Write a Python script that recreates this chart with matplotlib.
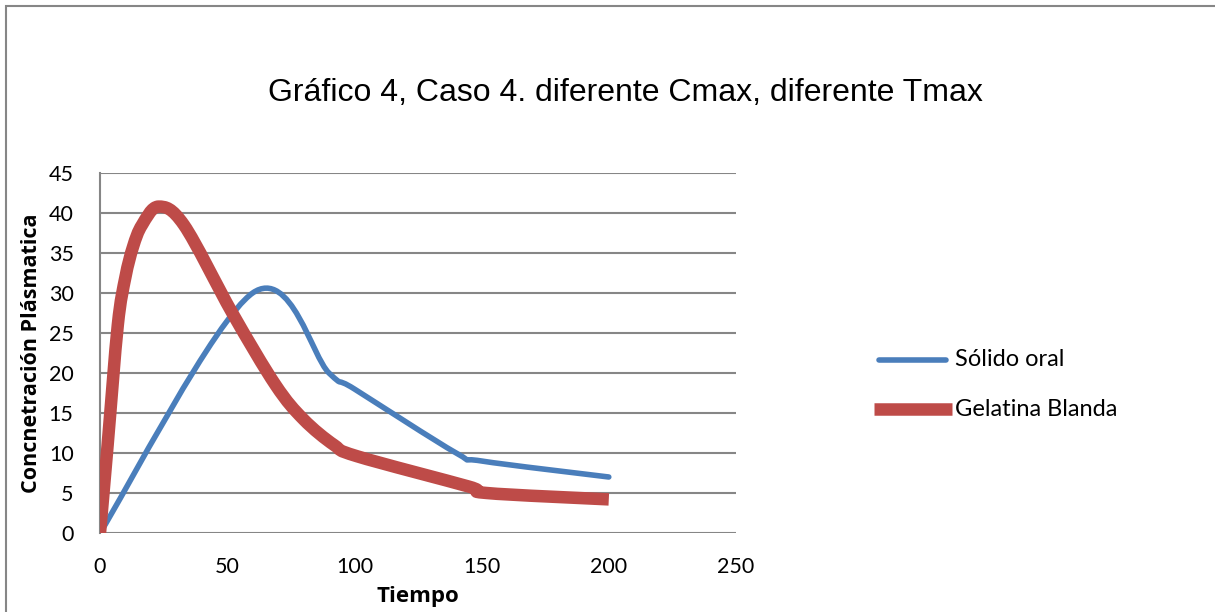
import numpy as np
import matplotlib
matplotlib.use("Agg")
import matplotlib.pyplot as plt
from matplotlib.path import Path
from matplotlib.patches import PathPatch, Rectangle
from matplotlib.lines import Line2D

# data
solido_t = [0, 60, 90, 100, 140, 150, 200]
solido_c = [0, 30, 20, 18, 10, 9, 7]

gelatina_t = [0, 3, 7, 10, 13, 16.5, 23, 33, 52, 69, 80, 92, 101, 145, 152, 200]
gelatina_c = [0, 11, 26, 32, 35.8, 38.5, 40.8, 38.5, 27.5, 18.5, 14.2, 11, 9.6, 5.8, 5, 4.2]

title = "Gráfico 4, Caso 4. diferente Cmax, diferente Tmax"
xlabel = "Tiempo"
ylabel = "Concnetración Plásmatica"
labels = ["Sólido oral", "Gelatina Blanda"]
xticks = [0, 50, 100, 150, 200, 250]
yticks = list(range(0, 50, 5))

blue = "#4a7ebb"
red = "#be4b48"
grey = "#868686"


def smooth_path(xs, ys):
    # Excel-like smoothed line: cubic bezier through the points
    p = np.column_stack([xs, ys]).astype(float)
    n = len(p)
    verts = [p[0]]
    codes = [Path.MOVETO]
    for i in range(n - 1):
        p0 = p[i - 1] if i > 0 else p[i]
        p3 = p[i + 2] if i + 2 < n else p[i + 1]
        c1 = p[i] + (p[i + 1] - p0) / 6
        c2 = p[i + 1] - (p3 - p[i]) / 6
        verts += [c1, c2, p[i + 1]]
        codes += [Path.CURVE4] * 3
    return Path(verts, codes)


W, H = 1215, 612
fig = plt.figure(figsize=(W / 100, H / 100), dpi=100)

# outer chart frame
fig.patches.append(Rectangle((6 / W, -0.05), 1.1, (606 / H) + 0.05,
                             transform=fig.transFigure, fill=False,
                             edgecolor=grey, linewidth=1.5))

ax = fig.add_axes([100 / W, 79 / H, 636 / W, 360 / H])
ax.set_xlim(0, 250)
ax.set_ylim(0, 45)

for y in yticks:
    ax.axhline(y, color=grey, linewidth=1.5, zorder=1)

ax.add_patch(PathPatch(smooth_path(solido_t, solido_c), fill=False,
                       edgecolor=blue, linewidth=4, capstyle="round",
                       joinstyle="round", zorder=3))
ax.add_patch(PathPatch(smooth_path(gelatina_t, gelatina_c), fill=False,
                       edgecolor=red, linewidth=9, capstyle="butt",
                       joinstyle="round", zorder=4))

for s in ["top", "right", "bottom"]:
    ax.spines[s].set_visible(False)
ax.spines["left"].set_color(grey)
ax.spines["left"].set_linewidth(1.5)

ax.set_xticks(xticks)
ax.set_yticks(yticks)
ax.tick_params(length=0, labelsize=15.5)
for lab in ax.get_xticklabels() + ax.get_yticklabels():
    lab.set_fontfamily("Lato")
ax.tick_params(axis="y", pad=19)
ax.tick_params(axis="x", pad=17)

ax.set_xlabel(xlabel, fontsize=16, fontweight="bold", family="Open Sans")
ax.xaxis.set_label_coords(418 / W, (H - 586) / H, transform=fig.transFigure)
ax.set_ylabel(ylabel, fontsize=15.5, fontweight="bold", family="Open Sans")
ax.yaxis.set_label_coords(42 / W, (H - 353) / H, transform=fig.transFigure)

fig.text(625 / W, (H - 93) / H, title, ha="center", va="center",
         fontsize=23, family="Liberation Sans")

# legend, drawn by hand to match the placement
leg_y = [360, 409]
leg_x = [(879, 946), (874, 952)]
styles = [dict(color=blue, linewidth=4, solid_capstyle="round"),
          dict(color=red, linewidth=9, solid_capstyle="butt")]
for lab, y, (x0, x1), st in zip(labels, leg_y, leg_x, styles):
    fig.add_artist(Line2D([x0 / W, x1 / W], [(H - y) / H] * 2,
                          transform=fig.transFigure, **st))
    fig.text(955 / W, (H - y) / H, lab, ha="left", va="center",
             fontsize=17, family="Lato")

fig.savefig("out.png", dpi=100)
